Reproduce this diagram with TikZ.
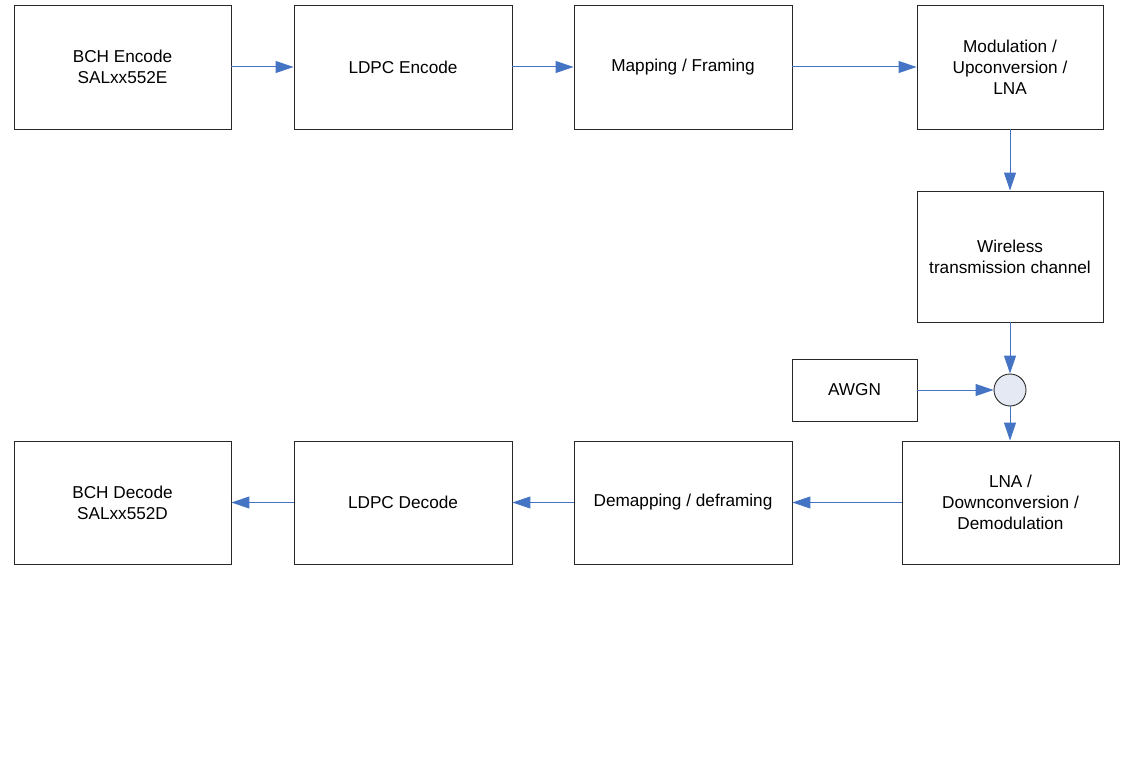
\documentclass[tikz,border=0pt]{standalone}
\usepackage{fontspec}
\setmainfont{Liberation Sans}
\usetikzlibrary{arrows.meta}
\definecolor{arrowblue}{RGB}{70,116,196}
\definecolor{boxline}{RGB}{40,40,40}
\definecolor{sumfill}{RGB}{228,233,243}
\begin{document}
\begin{tikzpicture}[x=1pt,y=-1pt,
  blockbox/.style={draw=boxline,line width=0.9pt,fill=white,align=center,inner sep=0pt,
    font=\fontsize{17.2}{20.8}\selectfont},
  flow/.style={draw=arrowblue,line width=1pt,-{Triangle[length=18pt,width=12pt]}},
  sumnode/.style={circle,draw=boxline,line width=0.9pt,fill=sumfill,minimum size=32pt,inner sep=0pt}]
\useasboundingbox[fill=white] (0,0) rectangle (1135,759);
\node[blockbox,minimum width=217pt,minimum height=124pt] (bche) at (122.5,67) {BCH Encode\\SALxx552E};
\node[blockbox,minimum width=218pt,minimum height=124pt] (ldpce) at (403,67) {LDPC Encode};
\node[blockbox,minimum width=218pt,minimum height=124pt] (map) at (683,67) {Mapping / Framing};
\node[blockbox,minimum width=186pt,minimum height=124pt] (mod) at (1010,67) {Modulation /\\Upconversion /\\LNA};
\node[blockbox,minimum width=186pt,minimum height=131pt] (wire) at (1010,256.5) {Wireless\\transmission channel};
\node[blockbox,minimum width=125pt,minimum height=62pt] (awgn) at (854.5,390) {AWGN};
\node[sumnode] (sum) at (1010,390) {};
\node[blockbox,minimum width=217pt,minimum height=123pt] (lna) at (1010.5,502.5) {LNA /\\Downconversion /\\Demodulation};
\node[blockbox,minimum width=218pt,minimum height=123pt] (demap) at (683,502.5) {Demapping / deframing};
\node[blockbox,minimum width=218pt,minimum height=123pt] (ldpcd) at (403,502.5) {LDPC Decode};
\node[blockbox,minimum width=217pt,minimum height=123pt] (bchd) at (122.5,502.5) {BCH Decode\\SALxx552D};
\draw[flow] (bche) -- (ldpce);
\draw[flow] (ldpce) -- (map);
\draw[flow] (map) -- (mod);
\draw[flow] (mod) -- (wire);
\draw[flow] (wire) -- (sum);
\draw[flow] (awgn) -- (sum);
\draw[flow] (sum) -- (sum.center |- lna.north);
\draw[flow] (lna) -- (demap);
\draw[flow] (demap) -- (ldpcd);
\draw[flow] (ldpcd) -- (bchd);
\end{tikzpicture}
\end{document}
